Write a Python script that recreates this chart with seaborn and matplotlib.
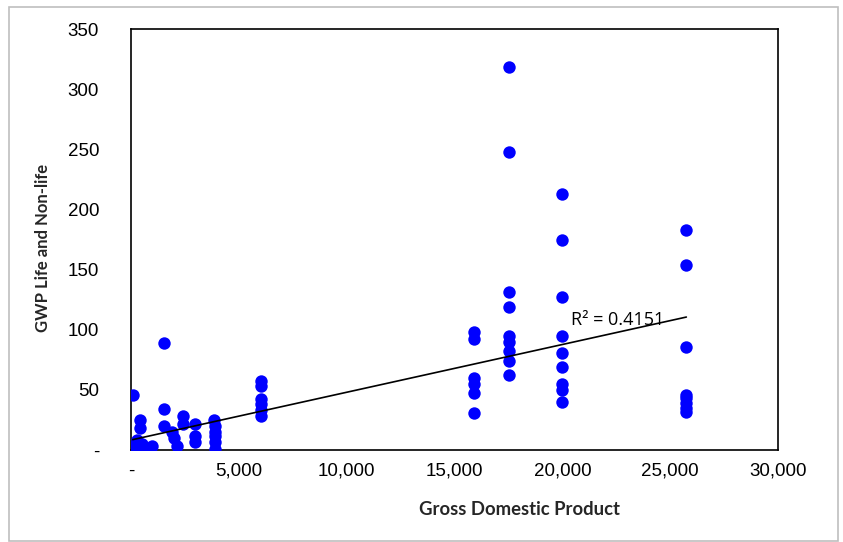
import numpy as np
import pandas as pd
import seaborn as sns
import matplotlib.pyplot as plt
from matplotlib.patches import Rectangle

# low GDP countries, read point by point
low_gdp = [80, 400, 400, 300, 500, 150, 600, 250, 990,
           1550, 1550, 1550, 1900, 2000, 2150, 2400, 2400,
           2950, 2950, 2950, 3850, 3900, 3900, 3900, 3900, 3900,
           6030, 6030, 6030, 6030, 6030, 6030]
low_gwp = [46, 25, 18, 8, 5, 3, 2, 1, 3,
           89, 34, 20, 15, 10, 3, 28, 22,
           22, 12, 7, 25, 20, 15, 12, 7, 1,
           57, 53, 42, 38, 33, 28]

# high GDP countries sit in vertical columns
high_gdp = [15900, 17550, 19990, 25750]
high_gwp = [
    [98, 92, 60, 55, 47, 31],
    [318, 248, 131, 119, 95, 90, 82, 74, 62],
    [213, 175, 127, 95, 81, 69, 55, 50, 40],
    [183, 154, 86, 46, 43, 39, 35, 32],
]

# linear trendline as shown on the chart (intercept, slope)
trend_coef = [8.3, 0.00397]
r2_label = "R² = 0.4151"
x_ticks = [0, 5000, 10000, 15000, 20000, 25000, 30000]
y_ticks = [0, 50, 100, 150, 200, 250, 300, 350]

gdp = list(low_gdp)
gwp = list(low_gwp)
for g, vals in zip(high_gdp, high_gwp):
    gdp += [g] * len(vals)
    gwp += vals
df = pd.DataFrame({"gdp": gdp, "gwp": gwp})

trend_x = np.array([min(gdp), max(gdp)])
trend = pd.DataFrame({"gdp": trend_x, "gwp": trend_coef[0] + trend_coef[1] * trend_x})

sns.set_style("white")
plt.rcParams["font.family"] = ["Liberation Sans", "DejaVu Sans"]

fig = plt.figure(figsize=(8.43, 5.42), dpi=100)
ax = fig.add_axes([131 / 843, 1 - 450 / 542, 647 / 843, 421 / 542])

sns.scatterplot(data=df, x="gdp", y="gwp", ax=ax, color="#0000FF",
                s=80, linewidth=0, zorder=3)
sns.lineplot(data=trend, x="gdp", y="gwp", ax=ax, color="black", lw=1.2, zorder=4)

ax.set_xlim(0, 30000)
ax.set_ylim(0, 350)
ax.set_xticks(x_ticks)
ax.set_yticks(y_ticks)
ax.set_xticklabels(["-" if t == 0 else f"{t:,}" for t in x_ticks], fontsize=13.5)
ax.set_yticklabels(["-" if t == 0 else f"{t}" for t in y_ticks], fontsize=13.5)
ax.tick_params(axis="x", direction="in", length=6, width=1, pad=9, colors="black")
ax.tick_params(axis="y", direction="out", length=4, width=1, pad=19, colors="black")
for sp in ax.spines.values():
    sp.set_color("black")
    sp.set_linewidth(1.2)

ax.set_xlabel("Gross Domestic Product", family="Lato", fontweight="bold", fontsize=13.3)
ax.set_ylabel("GWP Life and Non-life", family="Lato", fontweight="bold", fontsize=12)
ax.xaxis.set_label_coords(0.6, -0.122)
ax.yaxis.set_label_coords(-0.123, 0.48)

ax.text(20400, 101, r2_label, family="Open Sans", fontsize=13, color="black",
        va="bottom", zorder=5)

fig.patches.append(Rectangle((9 / 843, 1 / 542), 829 / 843, 534 / 542,
                             transform=fig.transFigure, fill=False,
                             edgecolor="#BFBFBF", lw=1.2))

fig.savefig("out.png", dpi=100)
